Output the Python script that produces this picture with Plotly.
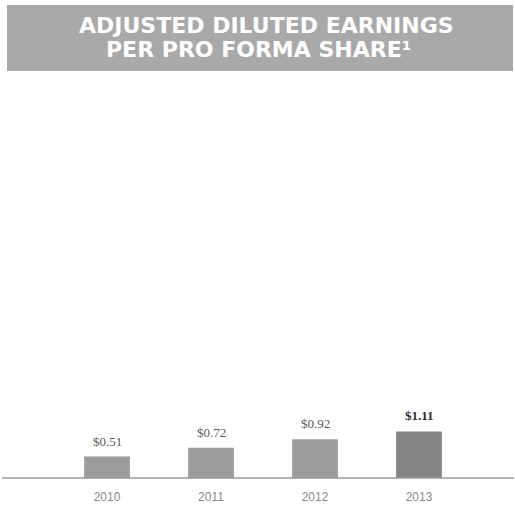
import plotly.graph_objects as go

# Adjusted diluted EPS per pro forma share, by fiscal year
years = ["2010", "2011", "2012", "2013"]
eps = [0.51, 0.72, 0.92, 1.11]
eps_labels = ["$0.51", "$0.72", "$0.92", "<b>$1.11</b>"]
bar_colors = ["#9c9c9c", "#9c9c9c", "#9c9c9c", "#858585"]
label_colors = ["#5a5a5a", "#5a5a5a", "#5a5a5a", "#2e2e2e"]

W, H = 515, 505
ML, MR, MT, MB = 55, 44, 90, 27
plot_w = W - ML - MR
plot_h = H - MT - MB


def px_x(p):
    return (p - ML) / plot_w


def px_y(p):
    return (H - MB - p) / plot_h


fig = go.Figure()
fig.add_trace(go.Bar(
    x=years,
    y=eps,
    width=0.44,
    marker=dict(color=bar_colors, line=dict(width=0)),
    hoverinfo="skip",
))

# value labels just above each bar (category axis positions by index)
for i, (v, lab, col) in enumerate(zip(eps, eps_labels, label_colors)):
    fig.add_annotation(
        x=i, y=v, xref="x", yref="y",
        text=lab, showarrow=False,
        yanchor="bottom", yshift=6,
        font=dict(family="Liberation Serif, serif", size=13, color=col),
    )

# title banner
fig.add_shape(
    type="rect", xref="paper", yref="paper",
    x0=px_x(7), x1=px_x(513), y0=px_y(71), y1=px_y(5),
    fillcolor="#a9a9a9", line=dict(width=0), layer="below",
)
title_font = dict(family="DejaVu Sans, sans-serif", size=22, color="white",
                  weight="bold")
fig.add_annotation(
    x=px_x(266), y=px_y(26), xref="paper", yref="paper",
    text="ADJUSTED DILUTED EARNINGS", showarrow=False,
    xanchor="center", yanchor="middle", font=title_font,
)
fig.add_annotation(
    x=px_x(258), y=px_y(50), xref="paper", yref="paper",
    text="PER PRO FORMA SHARE\u00b9", showarrow=False,
    xanchor="center", yanchor="middle", font=title_font,
)

# baseline rule across the full width, at the bottom of the plot area (y = 0)
fig.add_shape(
    type="line", xref="paper", yref="paper",
    x0=px_x(2), x1=px_x(514), y0=0, y1=0,
    line=dict(color="#9a9a9a", width=1.5),
)

fig.update_layout(
    width=W, height=H,
    margin=dict(l=ML, r=MR, t=MT, b=MB, pad=0, autoexpand=False),
    paper_bgcolor="white", plot_bgcolor="white",
    showlegend=False,
    xaxis=dict(
        type="category",
        categoryorder="array", categoryarray=years,
        range=[-0.5, len(years) - 0.5],
        automargin=False,
        showgrid=False, zeroline=False, showline=False,
        ticks="outside", ticklen=8, tickcolor="rgba(0,0,0,0)",
        tickfont=dict(family="Liberation Sans, sans-serif",
                      size=12, color="#8a8a8a"),
        fixedrange=True,
    ),
    yaxis=dict(
        range=[0, plot_h / 42.0],
        automargin=False,
        visible=False, fixedrange=True,
    ),
)

fig.write_html("out.html", config={"displayModeBar": False})
